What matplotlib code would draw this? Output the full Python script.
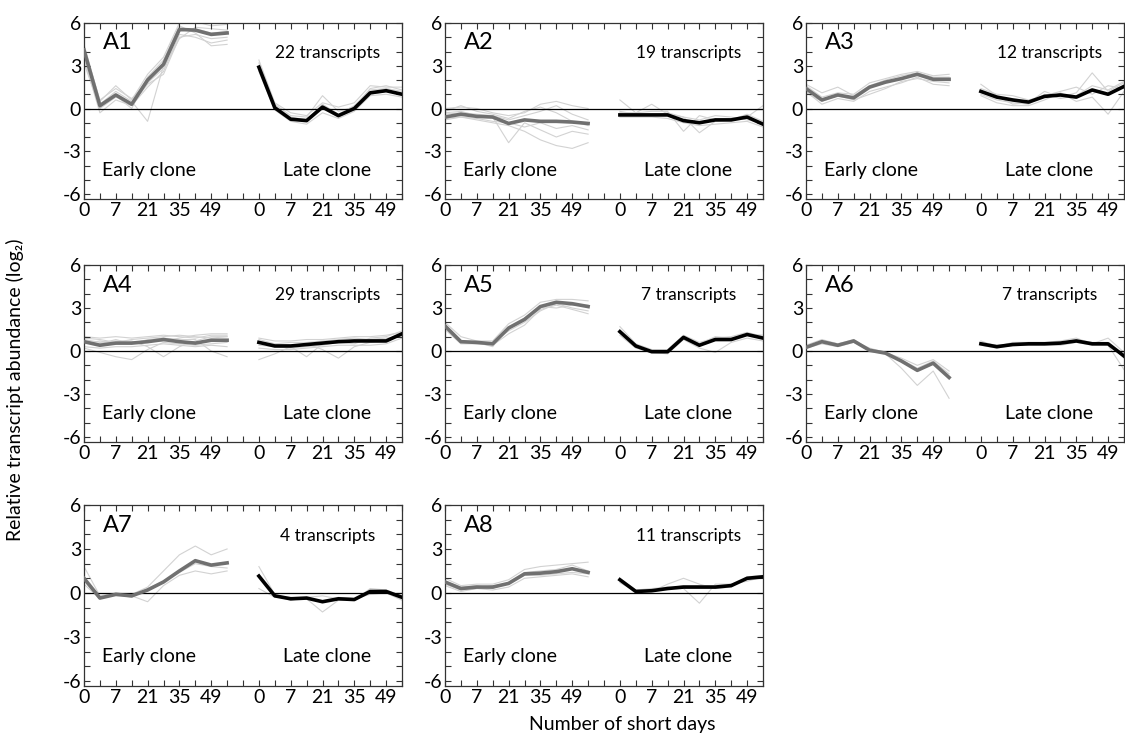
import numpy as np
import matplotlib.pyplot as plt

plt.rcParams['font.family'] = ['Lato', 'DejaVu Sans']
plt.rcParams['axes.unicode_minus'] = False

# panel labels, transcript counts and day tick labels
panel_names = ['A1', 'A2', 'A3', 'A4', 'A5', 'A6', 'A7', 'A8']
transcript_counts = [22, 19, 12, 29, 7, 7, 4, 11]
day_labels = ['0', '7', '21', '35', '49']

# cluster averages (log2), 10 sampling points per clone
a1_early = [4.1, 0.2, 0.95, 0.3, 2.0, 3.1, 5.55, 5.5, 5.2, 5.3]
a1_late = [2.9, 0.05, -0.75, -0.85, 0.1, -0.5, 0.0, 1.1, 1.25, 1.0]
a2_early = [-0.6, -0.4, -0.55, -0.6, -1.05, -0.8, -0.9, -0.9, -0.95, -1.05]
a2_late = [-0.45, -0.45, -0.45, -0.45, -0.85, -1.0, -0.8, -0.8, -0.6, -1.1]
a3_early = [1.4, 0.6, 0.95, 0.75, 1.5, 1.85, 2.1, 2.4, 2.05, 2.05]
a3_late = [1.2, 0.8, 0.6, 0.45, 0.85, 0.95, 0.8, 1.3, 1.0, 1.55]
a4_early = [0.65, 0.4, 0.55, 0.55, 0.65, 0.8, 0.65, 0.55, 0.75, 0.75]
a4_late = [0.6, 0.35, 0.35, 0.45, 0.55, 0.65, 0.7, 0.7, 0.7, 1.2]
a5_early = [1.75, 0.65, 0.6, 0.5, 1.6, 2.2, 3.1, 3.4, 3.3, 3.1]
a5_late = [1.35, 0.35, -0.05, -0.05, 0.95, 0.4, 0.8, 0.8, 1.15, 0.9]
a6_early = [0.25, 0.65, 0.4, 0.7, 0.05, -0.15, -0.7, -1.35, -0.85, -1.85]
a6_late = [0.5, 0.3, 0.45, 0.5, 0.5, 0.55, 0.7, 0.5, 0.5, -0.35]
a7_early = [1.0, -0.35, -0.1, -0.2, 0.2, 0.75, 1.5, 2.2, 1.9, 2.05]
a7_late = [1.15, -0.2, -0.4, -0.35, -0.6, -0.4, -0.45, 0.1, 0.1, -0.3]
a8_early = [0.75, 0.3, 0.4, 0.4, 0.65, 1.3, 1.35, 1.45, 1.65, 1.4]
a8_late = [0.9, 0.1, 0.15, 0.3, 0.4, 0.4, 0.4, 0.5, 1.0, 1.1]

# individual transcripts
a1_early_single = [
    [4.5, 0.5, 1.6, 0.6, 2.4, 3.6, 6.0, 6.1, 5.8, 5.9],
    [3.5, -0.3, 0.6, 0.2, 1.5, 2.6, 5.2, 5.0, 4.6, 4.8],
    [4.0, 0.3, 1.2, 0.5, -0.9, 3.0, 5.4, 5.6, 5.3, 5.4],
    [3.8, 0.1, 0.9, 0.0, 2.2, 3.4, 5.8, 5.3, 4.4, 4.5],
    [4.3, 0.6, 1.4, 0.7, 1.8, 2.8, 4.9, 5.7, 5.6, 5.5],
    [3.2, 0.0, 0.8, 0.3, 1.7, 2.4, 5.0, 5.2, 4.9, 5.0],
]
a1_late_single = [
    [3.2, 0.3, -0.5, -0.6, 0.9, -0.2, 0.1, 1.4, 1.6, 1.3],
    [2.6, -0.1, -0.9, -1.1, -0.3, -0.7, -0.2, 0.9, 1.0, 0.8],
    [3.0, 0.2, -0.6, -0.8, 0.3, -0.4, 0.2, 1.3, 1.4, 1.2],
    [2.7, 0.0, -0.8, -0.9, 0.0, -0.6, -0.1, 1.0, 1.2, 1.0],
    [3.4, 0.4, -0.3, -0.5, 0.4, 0.1, 0.4, 1.6, 1.5, 1.5],
]
a2_early_single = [
    [0.0, 0.1, 0.0, -0.3, -0.5, -0.3, 0.3, 0.5, 0.2, 0.0],
    [-0.3, -0.2, -0.5, -0.6, -2.4, -1.0, -1.5, -2.0, -1.6, -1.8],
    [-0.7, -0.6, -0.8, -1.0, -1.2, -1.6, -2.2, -2.6, -2.8, -2.4],
    [-0.4, -0.3, -0.4, -0.5, -0.8, -0.5, -0.2, 0.2, -0.4, -0.8],
    [-0.8, -0.6, -0.7, -0.9, -1.0, -1.3, -1.0, -1.4, -1.2, -1.5],
    [-0.2, 0.2, -0.2, -0.4, -0.7, -0.2, 0.1, -0.3, -0.9, -1.2],
]
a2_late_single = [
    [0.6, -0.3, -0.2, -0.2, -1.6, -0.5, -0.8, -0.7, -0.6, 0.2],
    [-0.3, -0.3, 0.3, -0.4, -0.6, -1.7, -0.9, -0.8, -0.4, -0.9],
    [-0.6, -0.6, -0.6, -0.7, -1.0, -1.2, -1.1, -1.0, -0.9, -1.3],
    [-0.2, -0.4, -0.5, -0.3, -0.6, -0.8, -0.5, -0.6, -0.8, -1.0],
]
a3_early_single = [
    [1.6, 0.8, 1.1, 1.0, 1.8, 2.1, 2.4, 2.6, 2.3, 2.4],
    [1.2, 0.3, 0.7, 0.5, 1.2, 1.5, 1.8, 2.2, 1.7, 1.6],
    [1.7, 1.1, 1.5, 0.9, 1.6, 2.0, 2.3, 2.5, 2.2, 2.2],
    [1.1, 0.5, 0.9, 0.6, 1.0, 1.4, 1.9, 2.1, 1.9, 1.8],
]
a3_late_single = [
    [1.7, 0.9, 0.3, 0.4, 1.2, 0.8, 1.1, 2.5, 1.2, 1.8],
    [0.9, 0.4, 0.2, 0.2, 0.6, 1.1, 0.5, 0.8, -0.4, 1.2],
    [1.4, 1.0, 0.9, 0.6, 0.9, 1.2, 1.5, 1.0, 1.6, 1.4],
    [1.0, 0.6, 0.4, 0.3, 1.0, 0.7, 0.9, 1.6, 1.3, 1.9],
]
a4_early_single = [
    [1.0, 0.9, 1.0, 0.9, 1.0, 1.1, 1.0, 0.9, 1.1, 1.1],
    [0.3, 0.2, 0.3, 0.3, 0.4, 0.5, 0.4, 0.3, 0.4, 0.3],
    [0.2, -0.1, -0.4, -0.6, 0.1, 0.6, 0.5, 0.4, 0.5, 0.6],
    [0.8, 0.6, 0.7, 0.7, 0.3, -0.4, 0.3, 0.7, 1.0, 1.0],
    [0.7, 0.5, 0.8, 0.5, 0.8, 0.9, 0.8, 0.8, 0.0, -0.4],
    [0.5, 0.7, 0.5, 0.6, 0.7, 0.7, 0.9, 1.1, 1.2, 1.2],
    [0.9, 0.8, 0.6, 0.8, 0.9, 1.0, 1.1, 1.0, 0.9, 1.0],
]
a4_late_single = [
    [0.9, 0.7, 0.7, 0.8, 0.8, 0.9, 1.0, 1.0, 1.1, 1.3],
    [0.2, 0.1, 0.1, 0.2, 0.3, 0.4, 0.4, 0.4, 0.5, 0.9],
    [-0.6, -0.2, 0.3, -0.4, 0.5, 0.6, 0.7, 0.8, 0.9, 1.0],
    [0.6, 0.5, 0.4, 0.5, 0.1, -0.5, 0.3, 0.6, 0.8, 1.2],
    [0.8, 0.5, 0.6, 0.6, 0.7, 0.8, 0.9, 0.8, 0.8, 1.1],
    [0.4, 0.3, 0.2, 0.3, 0.4, 0.6, 0.5, 0.9, 1.0, 1.4],
]
a5_early_single = [
    [2.0, 1.0, 0.7, 0.7, 1.9, 2.5, 3.4, 3.6, 3.6, 3.5],
    [1.5, 0.5, 0.5, 0.4, 1.2, 1.8, 2.9, 3.2, 2.9, 2.6],
    [1.8, 0.7, 0.6, 0.3, 1.7, 2.3, 3.1, 3.0, 3.2, 3.2],
    [1.6, 0.6, 0.5, 0.6, 1.4, 2.0, 2.8, 3.3, 3.0, 2.8],
]
a5_late_single = [
    [1.7, 0.5, 0.1, 0.1, 1.1, 0.6, 0.9, 1.0, 1.3, 1.0],
    [1.1, 0.2, -0.1, -0.2, 0.8, 0.2, -0.1, 0.6, 0.9, 0.7],
    [1.4, 0.4, 0.0, 0.0, 1.0, 0.5, 1.0, 0.9, 1.2, 1.1],
]
a6_early_single = [
    [0.3, 0.7, 0.5, 0.8, 0.1, -0.1, -0.5, -1.0, -0.6, -1.4],
    [0.2, 0.5, 0.3, 0.6, 0.0, -0.2, -1.2, -2.4, -1.4, -3.3],
    [0.4, 0.8, 0.5, 0.7, 0.2, -0.1, -0.6, -1.2, -0.7, -1.6],
]
a6_late_single = [
    [0.7, 0.3, 0.6, 0.6, 0.6, 0.7, 0.9, 0.5, 0.9, -0.1],
    [0.4, 0.2, 0.4, 0.4, 0.4, 0.4, 0.6, 0.4, 0.4, -1.3],
    [0.6, 0.4, 0.5, 0.6, 0.6, 0.6, 0.8, 0.6, 0.6, -0.5],
]
a7_early_single = [
    [1.8, -0.2, 0.0, -0.1, 0.4, 1.5, 2.6, 3.2, 2.6, 3.0],
    [0.6, -0.4, -0.1, -0.2, -0.6, 0.5, 1.2, 1.5, 1.3, 1.5],
    [0.8, -0.3, -0.1, -0.3, 0.3, 0.8, 1.4, 2.0, 1.8, 1.7],
]
a7_late_single = [
    [1.8, -0.1, -0.4, -0.3, -0.2, -0.4, -0.5, 0.3, 0.2, -0.2],
    [0.3, -0.3, -0.3, -0.4, -1.3, -0.5, -0.4, -0.1, 0.0, -0.5],
    [1.2, -0.2, -0.5, -0.3, -0.6, -0.3, -0.4, 0.1, 0.2, -0.3],
]
a8_early_single = [
    [1.0, 0.5, 0.6, 0.6, 0.9, 1.6, 1.8, 1.9, 2.0, 2.1],
    [0.5, 0.1, 0.3, 0.2, 0.4, 1.0, 1.1, 1.2, 1.3, 1.1],
    [0.8, 0.4, 0.5, 0.3, 0.7, 1.4, 1.5, 1.6, 1.9, 1.5],
    [0.6, 0.2, 0.3, 0.5, 0.6, 1.2, 1.2, 1.3, 1.4, 1.3],
]
a8_late_single = [
    [1.0, 0.2, 0.3, 0.4, 0.3, -0.7, 0.6, 0.6, 0.8, 1.1],
    [0.7, 0.1, 0.1, 0.6, 1.0, 0.6, 0.3, 0.4, 1.1, 1.2],
    [0.9, 0.2, 0.2, 0.3, 0.5, 0.5, 0.5, 0.6, 0.9, 1.0],
]

early_means = [a1_early, a2_early, a3_early, a4_early, a5_early, a6_early, a7_early, a8_early]
late_means = [a1_late, a2_late, a3_late, a4_late, a5_late, a6_late, a7_late, a8_late]
early_singles = [a1_early_single, a2_early_single, a3_early_single, a4_early_single,
                 a5_early_single, a6_early_single, a7_early_single, a8_early_single]
late_singles = [a1_late_single, a2_late_single, a3_late_single, a4_late_single,
                a5_late_single, a6_late_single, a7_late_single, a8_late_single]

# early clone on positions 0-9, late clone on 11-20
x_early = np.arange(10)
x_late = np.arange(11, 21)

W, H = 1125, 736
fig = plt.figure(figsize=(W / 100, H / 100), dpi=100)

col_left = [84, 445, 806]
row_top = [23, 265, 505]
row_bottom = [199, 442, 686]
panel_w = 318

for k, name in enumerate(panel_names):
    r, c = divmod(k, 3)
    ax = fig.add_axes([col_left[c] / W, 1 - row_bottom[r] / H,
                       panel_w / W, (row_bottom[r] - row_top[r]) / H])

    for line in early_singles[k]:
        ax.plot(x_early, line, color='#d2d2d2', lw=0.8, zorder=1)
    for line in late_singles[k]:
        ax.plot(x_late, line, color='#d2d2d2', lw=0.8, zorder=1)
    ax.axhline(0, color='black', lw=0.9, zorder=2)
    ax.plot(x_early, early_means[k], color='#707070', lw=2.6, zorder=3)
    ax.plot(x_late, late_means[k], color='black', lw=2.6, zorder=3)

    ax.set_xlim(0, 20)
    ax.set_ylim(-6.35, 6)
    ax.set_xticks([0, 2, 4, 6, 8, 11, 13, 15, 17, 19])
    ax.set_xticklabels(day_labels + day_labels)
    ax.set_xticks(np.arange(0, 21), minor=True)
    ax.set_yticks([-6, -3, 0, 3, 6])
    ax.set_yticklabels(['-6', '-3', '0', '3', '6'])
    ax.set_yticks(np.arange(-6, 7), minor=True)
    ax.tick_params(which='both', direction='in', length=4, width=0.8,
                   top=True, right=True, labelsize=14, pad=2, color='#333333')
    for s in ax.spines.values():
        s.set_linewidth(0.9)
        s.set_color('#333333')

    ax.text(1.2, 4.6, name, fontsize=17, va='center', ha='left')
    ax.text(15.3, 3.9, f'{transcript_counts[k]} transcripts', fontsize=12.5,
            ha='center', va='center')
    ax.text(4.1, -4.35, 'Early clone', fontsize=14, ha='center', va='center')
    ax.text(15.3, -4.35, 'Late clone', fontsize=14, ha='center', va='center')

fig.text(0.013, 0.47, 'Relative transcript abundance (log\u2082)', rotation=90,
         ha='center', va='center', fontsize=14)
fig.text(0.553, 0.015, 'Number of short days', ha='center', va='center', fontsize=14)

fig.savefig('out.png', dpi=100)
